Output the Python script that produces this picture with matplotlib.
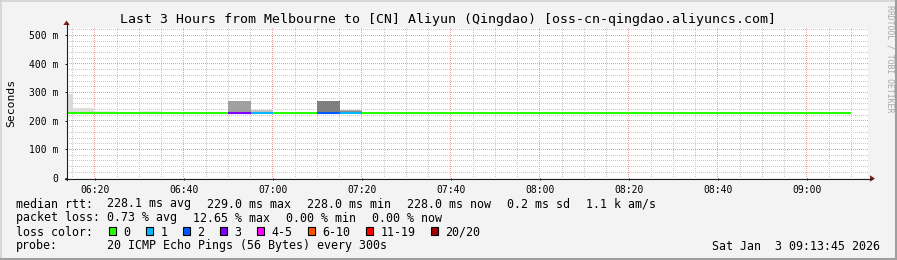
import matplotlib
matplotlib.use("Agg")
import numpy as np
import matplotlib.pyplot as plt
from matplotlib.lines import Line2D
from matplotlib.patches import Rectangle, Polygon
from matplotlib.ticker import FixedLocator, NullLocator

# ---------------- data ----------------
title = "Last 3 Hours from Melbourne to [CN] Aliyun (Qingdao) [oss-cn-qingdao.aliyuncs.com]"
view_start = "06:13:45"
view_end = "09:13:45"
bin_minutes = 5

bin_starts = ["06:10", "06:15", "06:20", "06:25", "06:30", "06:35", "06:40", "06:45",
              "06:50", "06:55", "07:00", "07:05", "07:10", "07:15", "07:20", "07:25",
              "07:30", "07:35", "07:40", "07:45", "07:50", "07:55", "08:00", "08:05",
              "08:10", "08:15", "08:20", "08:25", "08:30", "08:35", "08:40", "08:45",
              "08:50", "08:55", "09:00", "09:05"]
median_ms = [228.0, 228.0, 228.0, 228.0, 228.0, 228.0, 228.0, 228.0,
             229.0, 228.5, 228.0, 228.0, 228.5, 228.0, 228.0, 228.0,
             228.0, 228.0, 228.0, 228.0, 228.0, 228.0, 228.0, 228.0,
             228.0, 228.0, 228.0, 228.0, 228.0, 228.0, 228.0, 228.0,
             228.0, 228.0, 228.0, 228.0]
loss_count = [0, 0, 0, 0, 0, 0, 0, 0,
              3, 1, 0, 0, 2, 1, 0, 0,
              0, 0, 0, 0, 0, 0, 0, 0,
              0, 0, 0, 0, 0, 0, 0, 0,
              0, 0, 0, 0]
smoke_max_ms = [294, 245, 234, 229, 234, 229, 229, 229,
                270, 238, 229, 229, 270, 238, 229, 229,
                229, 229, 229, 229, 229, 229, 229, 229,
                229, 229, 229, 229, 229, 229, 229, 229,
                229, 229, 229, 229]
smoke_core_ms = [294, 245, 234, 229, 234, 229, 229, 229,
                 270, 238, 229, 229, 268.5, 236.5, 229, 229,
                 229, 229, 229, 229, 229, 229, 229, 229,
                 229, 229, 229, 229, 229, 229, 229, 229,
                 229, 229, 229, 229]
smoke_core_density = [0.19, 0.16, 0.03, 0.03, 0.03, 0.03, 0.03, 0.03,
                      0.71, 0.39, 0.03, 0.03, 1.00, 0.90, 0.03, 0.03,
                      0.03, 0.03, 0.03, 0.03, 0.03, 0.03, 0.03, 0.03,
                      0.03, 0.03, 0.03, 0.03, 0.03, 0.03, 0.03, 0.03,
                      0.03, 0.03, 0.03, 0.03]
smoke_cap_density = [0.19, 0.16, 0.03, 0.03, 0.03, 0.03, 0.03, 0.03,
                     0.71, 0.39, 0.03, 0.03, 0.53, 0.57, 0.03, 0.03,
                     0.03, 0.03, 0.03, 0.03, 0.03, 0.03, 0.03, 0.03,
                     0.03, 0.03, 0.03, 0.03, 0.03, 0.03, 0.03, 0.03,
                     0.03, 0.03, 0.03, 0.03]

y_ticks_ms = [0, 100, 200, 300, 400, 500]
y_tick_labels = ["0", "100 m", "200 m", "300 m", "400 m", "500 m"]
y_minor_step_ms = 20
x_tick_times = ["06:20", "06:40", "07:00", "07:20", "07:40", "08:00", "08:20", "08:40", "09:00"]
x_minor_step_min = 5
y_label = "Seconds"

loss_labels = ["0", "1", "2", "3", "4-5", "6-10", "11-19", "20/20"]
loss_upper = [0, 1, 2, 3, 5, 10, 19, 20]
loss_colors = ["#26ff00", "#00b8ff", "#0059ff", "#7e00ff", "#ff00ff", "#ff5500", "#ff0000", "#a00000"]

rtt_label = "median rtt:"
rtt_items = ["228.1 ms avg", "229.0 ms max", "228.0 ms min", "228.0 ms now", "0.2 ms sd", "1.1 k am/s"]
pl_label = "packet loss:"
pl_items = ["0.73 % avg", "12.65 % max", "0.00 % min", "0.00 % now"]
lc_label = "loss color:"
probe_label = "probe:"
probe_text = "20 ICMP Echo Pings (56 Bytes) every 300s"
date_text = "Sat Jan  3 09:13:45 2026"
watermark = "RRDTOOL / TOBI OETIKER"

# ---------------- helpers ----------------
W, H, DPI = 897, 260, 100
MONO = "DejaVu Sans Mono"


def tmin(s):
    parts = [int(p) for p in s.split(":")]
    while len(parts) < 3:
        parts.append(0)
    return parts[0] * 60 + parts[1] + parts[2] / 60.0


def fx(px):
    return px / W


def fy(py):
    return 1 - py / H


def loss_color(n):
    for up, c in zip(loss_upper, loss_colors):
        if n <= up:
            return c
    return loss_colors[-1]


def gray(d):
    g = 0.94 - 0.44 * d
    return (g, g, g)


fig = plt.figure(figsize=(W / DPI, H / DPI), dpi=DPI)
fig.patch.set_facecolor("#f3f3f3")

# plot area in whole pixels
L, R, T, B = 67, 868, 28, 178
PW, PH = R - L, B - T
ax = fig.add_axes([fx(L), fy(B), fx(PW), PH / H])
ax.set_facecolor("white")
x0, x1 = tmin(view_start), tmin(view_end)
y_top = 526.3

for s in ax.spines.values():
    s.set_visible(False)

# ticks
major_x = [tmin(t) for t in x_tick_times]
ax.xaxis.set_major_locator(FixedLocator(major_x))
ax.yaxis.set_major_locator(FixedLocator(y_ticks_ms))
ax.xaxis.set_minor_locator(NullLocator())
ax.yaxis.set_minor_locator(NullLocator())
ax.set_xticklabels(x_tick_times)
ax.set_yticklabels(y_tick_labels)
ax.tick_params(which="major", direction="out", length=1.6, width=0.72, color="#1f1f1f",
               labelsize=7, pad=4.6)
ax.tick_params(axis="x", pad=3.4)
for lab in ax.get_xticklabels() + ax.get_yticklabels():
    lab.set_family(MONO)

# grid: crisp 1px dotted lines rendered as a pixel layer aligned with the axes
grid = np.zeros((PH, PW, 4))
minor_rgba = (0.79, 0.79, 0.79, 1.0)
major_rgba = (0.95, 0.62, 0.62, 1.0)


def col_of(t):
    return int(np.floor((t - x0) / (x1 - x0) * PW))


def row_of(v):
    return int(np.floor((y_top - v) / y_top * PH))


def vline(t, rgba):
    c = col_of(t)
    if 0 <= c < PW:
        grid[0::2, c] = rgba


def hline(v, rgba):
    r = row_of(v)
    if 0 <= r < PH:
        grid[r, 0::2] = rgba


t = x0 - (x0 % x_minor_step_min) + x_minor_step_min
while t < x1:
    vline(t, minor_rgba)
    t += x_minor_step_min
v = y_minor_step_ms
while v < y_top:
    hline(v, minor_rgba)
    v += y_minor_step_ms
for mx in major_x:
    vline(mx, major_rgba)
for yv in y_ticks_ms[1:]:
    hline(yv, major_rgba)
ax.imshow(grid, extent=(x0, x1, 0, y_top), aspect="auto", interpolation="nearest",
          origin="upper", zorder=0.5)
ax.set_xlim(x0, x1)
ax.set_ylim(0, y_top)

# smoke
starts = [tmin(s) for s in bin_starts]
for st, med, top, core, dc, dcap in zip(starts, median_ms, smoke_max_ms, smoke_core_ms,
                                        smoke_core_density, smoke_cap_density):
    bottom = med - 2
    if core > bottom:
        ax.bar(st, core - bottom, bottom=bottom, width=bin_minutes, align="edge",
               color=gray(dc), linewidth=0, zorder=2)
    if top > core:
        ax.bar(st, top - core, bottom=core, width=bin_minutes, align="edge",
               color=gray(dcap), linewidth=0, zorder=2)

# median line coloured by loss
for st, med, n in zip(starts, median_ms, loss_count):
    ax.hlines(med, st, st + bin_minutes, colors=loss_color(n), linewidth=1.5,
              zorder=3, capstyle="butt")

# axes lines with arrows
axis_col = "#1f1f1f"
arrow_col = "#801f1f"
fig.add_artist(Line2D([fx(L - 0.5), fx(L - 0.5)], [fy(B + 1.5), fy(T - 5)], color=axis_col, lw=0.8))
fig.add_artist(Line2D([fx(L - 2), fx(R + 4)], [fy(B + 0.5), fy(B + 0.5)], color=axis_col, lw=0.8))
fig.add_artist(Polygon([[fx(L - 3.7), fy(T - 3)], [fx(L + 2.7), fy(T - 3)], [fx(L - 0.5), fy(T - 7.5)]],
                       closed=True, color=arrow_col, lw=0))
fig.add_artist(Polygon([[fx(R + 2), fy(B - 2.7)], [fx(R + 2), fy(B + 3.7)], [fx(R + 7), fy(B + 0.5)]],
                       closed=True, color=arrow_col, lw=0))

# title, labels
fig.text(fx(448), fy(19), title, family=MONO, fontsize=9.5, ha="center", va="center")
fig.text(fx(11), fy(103), y_label, family=MONO, fontsize=8.2, ha="center", va="center",
         rotation=90)
fig.text(fx(890), fy(5), watermark, family=MONO, fontsize=5.9, ha="center", va="top",
         rotation=270, color="#a8a8a8")

LFS = 8.4
CHAR = 7.0
GAP = 16.0
fig.text(fx(16), fy(204), rtt_label, family=MONO, fontsize=LFS, va="center")
xp = 107.3
for s in rtt_items:
    fig.text(fx(xp), fy(204), s, family=MONO, fontsize=LFS, va="center")
    xp += CHAR * len(s) + GAP
fig.text(fx(16), fy(218), pl_label, family=MONO, fontsize=LFS, va="center")
xp = 107.3
for s in pl_items:
    fig.text(fx(xp), fy(218), s, family=MONO, fontsize=LFS, va="center")
    xp += CHAR * len(s) + GAP
fig.text(fx(16), fy(232), lc_label, family=MONO, fontsize=LFS, va="center")
cursor = 108.7
for lab, col in zip(loss_labels, loss_colors):
    fig.add_artist(Rectangle((fx(cursor), fy(234.7)), fx(7.3), 7.3 / H, facecolor=col,
                             edgecolor="black", lw=0.8))
    fig.text(fx(cursor + 14.8), fy(232), lab, family=MONO, fontsize=LFS, va="center")
    cursor = cursor + 14.8 + CHAR * len(lab) + 15.2
fig.text(fx(16), fy(246), probe_label, family=MONO, fontsize=LFS, va="center")
fig.text(fx(107.3), fy(246), probe_text, family=MONO, fontsize=LFS, va="center")
fig.text(fx(880), fy(246), date_text, family=MONO, fontsize=LFS, va="center", ha="right")

# 3D frame
fig.add_artist(Line2D([0, 1], [fy(0.75), fy(0.75)], color="#cfcfcf", lw=1.1))
fig.add_artist(Line2D([fx(0.75), fx(0.75)], [0, 1], color="#cfcfcf", lw=1.1))
fig.add_artist(Line2D([0, 1], [fy(H - 1), fy(H - 1)], color="#9e9e9e", lw=1.5))
fig.add_artist(Line2D([fx(W - 1), fx(W - 1)], [0, 1], color="#9e9e9e", lw=1.5))

fig.savefig("out.png", dpi=DPI, facecolor=fig.get_facecolor())
